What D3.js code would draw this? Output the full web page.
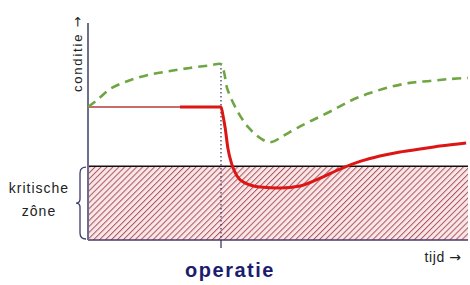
<!DOCTYPE html>
<html>
<head>
<meta charset="utf-8">
<script src="https://cdn.jsdelivr.net/npm/d3@7"></script>
<style>
	body { margin: 0; background: #fff; }
	svg { display: block; }
</style>
</head>
<body>
<script>
//time (0-100) and condition (0-100) readings
let operationTime = 35;
let criticalLevel = 34;
let thickStart = 24.2;

let redTime = [0, 24.2, 35, 35.5, 36.1, 36.8, 37.9, 39.2, 41.3, 45.3, 50.5, 55.8, 61.1, 66.3, 71.6, 76.8, 82.1, 87.4, 92.6, 99.5];
let redCondition = [61.3, 61.3, 61.3, 57.6, 51.6, 42.4, 34.6, 29.5, 26.3, 24.4, 24, 24.9, 28.5, 32.7, 36.2, 38.7, 40.6, 41.9, 43.3, 44.7];

let greenTime = [0, 2.4, 5.8, 10.5, 15.8, 21.6, 26.8, 32.6, 35, 35.8, 36.6, 38.9, 42.1, 46.1, 48.4, 51.3, 55, 59.2, 64.5, 69.5, 74.2, 79.5, 84.7, 90, 95.3, 100];
let greenCondition = [61.3, 64.5, 69.6, 73.3, 76, 77.9, 79.3, 80.6, 81.1, 77.4, 70, 60.8, 52.1, 46.1, 45.2, 47.9, 51.6, 55.3, 59.9, 64.5, 67.7, 70.5, 72.4, 73.3, 74.2, 74.7];

let labels = {
	y: 'conditie',
	x: 'tijd',
	arrow: '→',
	zone: ['kritische', 'zône'],
	event: 'operatie'
};

let font = "'Liberation Sans', Arial, sans-serif";

let svg = d3.select('body').append('svg')
	.attr('width', 470)
	.attr('height', 285);

//scales
let xScale = d3.scaleLinear()
	.domain([0, 100])
	.range([88, 468]);

let yScale = d3.scaleLinear()
	.domain([0, 100])
	.range([240, 23]);

//hatch pattern for the critical zone
let pattern = svg.append('defs')
	.append('pattern')
	.attr('id', 'hatch')
	.attr('patternUnits', 'userSpaceOnUse')
	.attr('width', 4.2)
	.attr('height', 4.2)
	.attr('patternTransform', 'rotate(45)');

pattern.append('rect')
	.attr('width', 4.2)
	.attr('height', 4.2)
	.attr('fill', '#fae6e6');

pattern.append('line')
	.attr('x1', 0)
	.attr('y1', 0)
	.attr('x2', 0)
	.attr('y2', 4.2)
	.attr('stroke', '#a85662')
	.attr('stroke-width', 2);

//critical zone
svg.append('rect')
	.attr('x', xScale(0))
	.attr('y', yScale(criticalLevel))
	.attr('width', xScale(100) - xScale(0))
	.attr('height', yScale(0) - yScale(criticalLevel))
	.attr('fill', 'url(#hatch)');

svg.append('line')
	.attr('x1', xScale(0))
	.attr('x2', xScale(100))
	.attr('y1', yScale(criticalLevel))
	.attr('y2', yScale(criticalLevel))
	.attr('stroke', '#111')
	.attr('stroke-width', 1.5);

//x axis
svg.append('line')
	.attr('x1', xScale(0))
	.attr('x2', xScale(100))
	.attr('y1', yScale(0))
	.attr('y2', yScale(0))
	.attr('stroke', '#4a3a6a')
	.attr('stroke-width', 1.5);

//y axis
svg.append('line')
	.attr('x1', xScale(0))
	.attr('x2', xScale(0))
	.attr('y1', yScale(0))
	.attr('y2', yScale(100))
	.attr('stroke', '#6d6d8c')
	.attr('stroke-width', 2);

//operation marker
svg.append('line')
	.attr('x1', xScale(operationTime))
	.attr('x2', xScale(operationTime))
	.attr('y1', yScale(81.1))
	.attr('y2', yScale(0))
	.attr('stroke', '#2c2c5c')
	.attr('stroke-width', 1.2)
	.attr('stroke-dasharray', '1.5,2.5');

svg.append('line')
	.attr('x1', xScale(operationTime))
	.attr('x2', xScale(operationTime))
	.attr('y1', yScale(0))
	.attr('y2', yScale(0) + 8)
	.attr('stroke', '#2c2c5c')
	.attr('stroke-width', 1.2);

//lines
let line = d3.line()
	.x(function(d) { return xScale(d[0]); })
	.y(function(d) { return yScale(d[1]); });

let redData = d3.zip(redTime, redCondition);
let greenData = d3.zip(greenTime, greenCondition);

//thin part of the red line before the operation
svg.append('path')
	.datum(redData.filter(function(d) { return d[0] <= thickStart; }))
	.attr('d', line)
	.attr('fill', 'none')
	.attr('stroke', '#b53a3a')
	.attr('stroke-width', 1.5);

svg.append('path')
	.datum(redData.filter(function(d) { return d[0] >= thickStart; }))
	.attr('d', line.curve(d3.curveMonotoneX))
	.attr('fill', 'none')
	.attr('stroke', '#dd1515')
	.attr('stroke-width', 3);

svg.append('path')
	.datum(greenData)
	.attr('d', line.curve(d3.curveCatmullRom))
	.attr('fill', 'none')
	.attr('stroke', '#6fa543')
	.attr('stroke-width', 2.6)
	.attr('stroke-dasharray', '9,6');

//brace next to the critical zone
let braceTop = yScale(criticalLevel) + 1, braceBottom = yScale(0) - 1, braceMid = (braceTop + braceBottom) / 2;
let bx = xScale(0) - 4;
svg.append('path')
	.attr('d', 'M' + (bx + 2) + ',' + braceTop +
		' Q' + (bx - 4) + ',' + braceTop + ' ' + (bx - 4) + ',' + (braceTop + 6) +
		' L' + (bx - 4) + ',' + (braceMid - 4) +
		' Q' + (bx - 4) + ',' + braceMid + ' ' + (bx - 8) + ',' + braceMid +
		' Q' + (bx - 4) + ',' + braceMid + ' ' + (bx - 4) + ',' + (braceMid + 4) +
		' L' + (bx - 4) + ',' + (braceBottom - 6) +
		' Q' + (bx - 4) + ',' + braceBottom + ' ' + (bx + 2) + ',' + braceBottom)
	.attr('fill', 'none')
	.attr('stroke', '#3a3a6a')
	.attr('stroke-width', 1.3);

//axis labels, the arrow in DejaVu so it sits centred and long
let yLabel = svg.append('text')
	.attr('transform', 'translate(' + (xScale(0) - 6) + ',92) rotate(-90)')
	.attr('font-family', font)
	.attr('font-size', '13px')
	.attr('letter-spacing', '1.8px')
	.attr('fill', '#222')
	.text(labels.y + ' ');

yLabel.append('tspan')
	.attr('font-family', 'DejaVu Sans')
	.attr('letter-spacing', '0px')
	.text(labels.arrow);

let xLabel = svg.append('text')
	.attr('x', 461)
	.attr('y', 262)
	.attr('text-anchor', 'end')
	.attr('font-family', font)
	.attr('font-size', '14px')
	.attr('letter-spacing', '0.6px')
	.attr('fill', '#222')
	.text(labels.x + ' ');

xLabel.append('tspan')
	.attr('font-family', 'DejaVu Sans')
	.attr('letter-spacing', '0px')
	.text(labels.arrow);

svg.selectAll('.zone')
	.data(labels.zone)
	.enter()
	.append('text')
	.attr('class', 'zone')
	.attr('x', 39)
	.attr('y', function(d, i) { return 193 + i * 23; })
	.attr('text-anchor', 'middle')
	.attr('font-family', font)
	.attr('font-size', '14px')
	.attr('letter-spacing', '1px')
	.attr('fill', '#222')
	.text(function(d) { return d; });

svg.append('text')
	.attr('x', xScale(operationTime) + 9)
	.attr('y', 277)
	.attr('text-anchor', 'middle')
	.attr('font-family', font)
	.attr('font-size', '20px')
	.attr('font-weight', 'bold')
	.attr('letter-spacing', '1.5px')
	.attr('fill', '#1c1c6e')
	.text(labels.event);
</script>
</body>
</html>
